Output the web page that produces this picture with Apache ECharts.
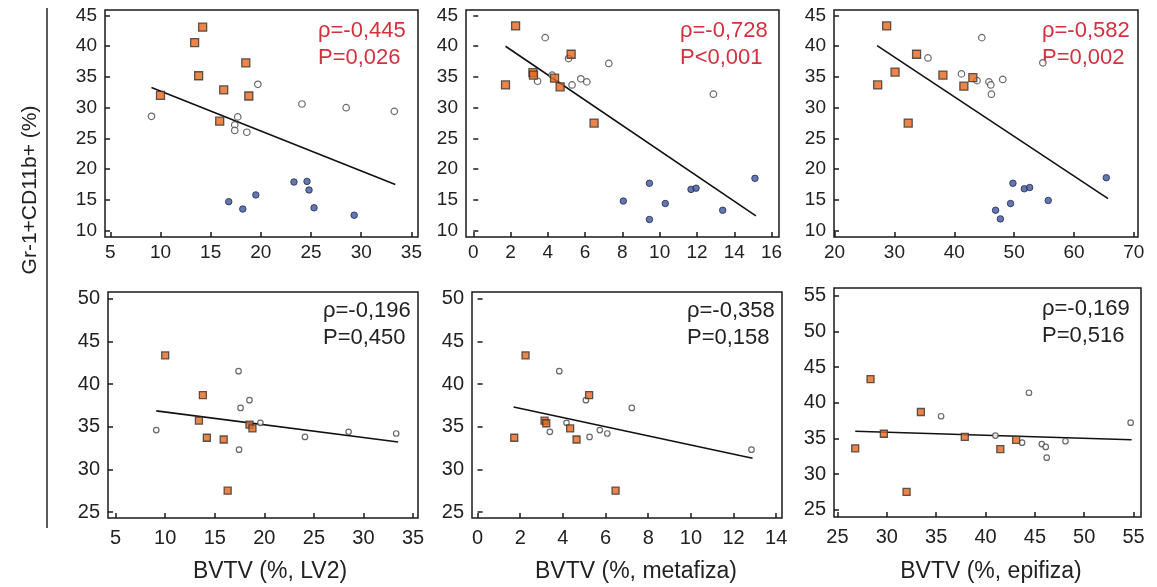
<!DOCTYPE html>
<html><head><meta charset="utf-8">
<script src="https://cdn.jsdelivr.net/npm/echarts@6/dist/echarts.min.js"></script>
<style>html,body{margin:0;padding:0;background:#fff}#c{width:1157px;height:587px}</style>
</head><body><div id="c"></div>
<script>
// ---------- DATA ----------
// Panel 1: BVTV (%, LV2) – top row
const p1OrangeX = [10.0, 13.4, 14.2, 13.8, 16.3, 18.5, 18.8, 15.9];
const p1OrangeY = [32.0, 40.6, 43.1, 35.2, 32.9, 37.3, 31.9, 27.8];
const p1WhiteX  = [9.1, 19.7, 24.1, 28.5, 33.3, 17.7, 17.4, 17.4, 18.6];
const p1WhiteY  = [28.6, 33.8, 30.6, 30.0, 29.4, 28.5, 27.2, 26.3, 26.0];
const p1BlueX   = [16.8, 18.2, 19.5, 23.3, 24.6, 24.8, 25.3, 29.3];
const p1BlueY   = [14.7, 13.5, 15.8, 17.9, 18.0, 16.6, 13.7, 12.5];
const p1LineX   = [9.1, 33.4];
const p1LineY   = [33.3, 17.5];
// Panel 2: BVTV (%, metafiza) – top row
const p2OrangeX = [1.73, 2.27, 3.2, 3.23, 4.36, 4.66, 5.25, 6.48];
const p2OrangeY = [33.7, 43.3, 35.7, 35.3, 34.8, 33.4, 38.7, 27.5];
const p2WhiteX  = [3.86, 5.11, 7.27, 4.23, 3.45, 5.77, 6.09, 5.3, 12.88];
const p2WhiteY  = [41.4, 38.0, 37.2, 35.3, 34.3, 34.7, 34.2, 33.7, 32.2];
const p2BlueX   = [8.05, 9.45, 9.45, 10.3, 11.68, 11.95, 13.38, 15.11];
const p2BlueY   = [14.8, 17.7, 11.8, 14.4, 16.7, 16.9, 13.3, 18.5];
const p2LineX   = [1.73, 15.16];
const p2LineY   = [40.0, 12.4];
// Panel 3: BVTV (%, epifiza) – top row
const p3OrangeX = [27.2, 28.7, 30.1, 32.3, 33.7, 38.1, 41.6, 43.1];
const p3OrangeY = [33.7, 43.3, 35.8, 27.5, 38.7, 35.3, 33.5, 34.9];
const p3WhiteX  = [35.6, 41.2, 43.8, 44.6, 45.8, 46.1, 46.2, 48.1, 54.8];
const p3WhiteY  = [38.1, 35.5, 34.4, 41.4, 34.2, 33.7, 32.2, 34.6, 37.3];
const p3BlueX   = [46.9, 47.7, 49.4, 49.8, 51.7, 52.6, 55.7, 65.4];
const p3BlueY   = [13.3, 11.9, 14.4, 17.7, 16.8, 17.0, 14.9, 18.6];
const p3LineX   = [27.1, 65.7];
const p3LineY   = [40.1, 15.2];
// Panel 4: BVTV (%, LV2) – bottom row
const p4OrangeX = [10.0, 13.4, 13.8, 14.2, 15.9, 16.3, 18.5, 18.8];
const p4OrangeY = [43.35, 35.7, 38.7, 33.7, 33.5, 27.5, 35.25, 34.8];
const p4WhiteX  = [9.1, 17.4, 17.6, 17.45, 18.5, 19.6, 24.1, 28.5, 33.3];
const p4WhiteY  = [34.6, 41.5, 37.2, 32.3, 38.1, 35.45, 33.8, 34.4, 34.2];
const p4LineX   = [9.1, 33.5];
const p4LineY   = [36.85, 33.2];
// Panel 5: BVTV (%, metafiza) – bottom row
const p5OrangeX = [1.72, 2.25, 3.14, 3.22, 4.34, 4.64, 5.23, 6.47];
const p5OrangeY = [33.7, 43.35, 35.7, 35.4, 34.8, 33.5, 38.7, 27.5];
const p5WhiteX  = [3.83, 5.08, 7.23, 4.17, 3.39, 5.73, 6.08, 5.25, 12.84];
const p5WhiteY  = [41.5, 38.1, 37.2, 35.45, 34.4, 34.6, 34.2, 33.8, 32.3];
const p5LineX   = [1.69, 12.89];
const p5LineY   = [37.3, 31.3];
// Panel 6: BVTV (%, epifiza) – bottom row
const p6OrangeX = [26.8, 28.35, 29.7, 32.0, 33.45, 37.9, 41.5, 43.1];
const p6OrangeY = [33.6, 43.3, 35.65, 27.5, 38.7, 35.2, 33.5, 34.8];
const p6WhiteX  = [35.5, 41.0, 43.7, 44.4, 45.7, 46.1, 46.2, 48.1, 54.7];
const p6WhiteY  = [38.1, 35.4, 34.4, 41.4, 34.2, 33.8, 32.3, 34.6, 37.2];
const p6LineX   = [26.8, 54.8];
const p6LineY   = [36.0, 34.8];

// tick labels
const xTicksLV2  = [5, 10, 15, 20, 25, 30, 35];
const xTicksMet1 = [0, 2, 4, 6, 8, 10, 12, 14, 16];
const xTicksEpi1 = [20, 30, 40, 50, 60, 70];
const xTicksMet2 = [0, 2, 4, 6, 8, 10, 12, 14];
const xTicksEpi2 = [25, 30, 35, 40, 45, 50, 55];
const yTicksTop  = [10, 15, 20, 25, 30, 35, 40, 45];
const yTicksBot  = [25, 30, 35, 40, 45, 50];
const yTicksBot3 = [25, 30, 35, 40, 45, 50, 55];

// texts
const statRho = ['ρ=-0,445', 'ρ=-0,728', 'ρ=-0,582', 'ρ=-0,196', 'ρ=-0,358', 'ρ=-0,169'];
const statP   = ['P=0,026', 'P<0,001', 'P=0,002', 'P=0,450', 'P=0,158', 'P=0,516'];
const xTitles = ['BVTV (%, LV2)', 'BVTV (%, metafiza)', 'BVTV (%, epifiza)'];
const yTitle  = 'Gr-1+CD11b+ (%)';

// ---------- BUILD ----------
const zip = (a, b) => a.map((v, i) => [v, b[i]]);
const panels = [
  {o:[p1OrangeX,p1OrangeY], w:[p1WhiteX,p1WhiteY], b:[p1BlueX,p1BlueY], l:[p1LineX,p1LineY], xt:xTicksLV2, yt:yTicksTop,
   grid:{left:105,top:10,width:313,height:227}, xr:[4.47,35.66], yr:[8.95,45.9], top:true},
  {o:[p2OrangeX,p2OrangeY], w:[p2WhiteX,p2WhiteY], b:[p2BlueX,p2BlueY], l:[p2LineX,p2LineY], xt:xTicksMet1, yt:yTicksTop,
   grid:{left:466,top:10,width:313,height:227}, xr:[-0.39,16.4], yr:[8.95,45.9], top:true},
  {o:[p3OrangeX,p3OrangeY], w:[p3WhiteX,p3WhiteY], b:[p3BlueX,p3BlueY], l:[p3LineX,p3LineY], xt:xTicksEpi1, yt:yTicksTop,
   grid:{left:834,top:10,width:304,height:227}, xr:[19.9,70.7], yr:[8.95,45.9], top:true},
  {o:[p4OrangeX,p4OrangeY], w:[p4WhiteX,p4WhiteY], b:null, l:[p4LineX,p4LineY], xt:xTicksLV2, yt:yTicksBot,
   grid:{left:108,top:292,width:310,height:226}, xr:[4.23,35.5], yr:[24.3,50.78], top:false},
  {o:[p5OrangeX,p5OrangeY], w:[p5WhiteX,p5WhiteY], b:null, l:[p5LineX,p5LineY], xt:xTicksMet2, yt:yTicksBot,
   grid:{left:472,top:292,width:310,height:226}, xr:[-0.26,14.27], yr:[24.3,50.78], top:false},
  {o:[p6OrangeX,p6OrangeY], w:[p6WhiteX,p6WhiteY], b:null, l:[p6LineX,p6LineY], xt:xTicksEpi2, yt:yTicksBot3,
   grid:{left:834,top:288,width:307,height:229}, xr:[24.65,55.75], yr:[23.98,56.08], top:false}
];

const FONT = '"Liberation Sans", Arial, sans-serif';
const grids = [], xAxes = [], yAxes = [], series = [];
panels.forEach((p, i) => {
  grids.push(Object.assign({show:true, borderColor:'#1a1a1a', borderWidth:1.5, backgroundColor:'transparent'}, p.grid));
  const lblSize = p.top ? 19 : 20;
  const tick = {show:true, inside:true, length:5, lineStyle:{color:'#1a1a1a', width:1.5}};
  xAxes.push({gridIndex:i, type:'value', min:p.xr[0], max:p.xr[1],
    axisLine:{show:false}, splitLine:{show:false},
    axisTick:Object.assign({customValues:p.xt}, tick),
    axisLabel:{customValues:p.xt, margin:p.top ? 6 : 10, fontSize:lblSize, color:'#222', fontFamily:FONT}});
  yAxes.push({gridIndex:i, type:'value', min:p.yr[0], max:p.yr[1],
    axisLine:{show:false}, splitLine:{show:false},
    axisTick:Object.assign({customValues:p.yt}, tick),
    axisLabel:{customValues:p.yt, margin:8, fontSize:lblSize, color:'#222', fontFamily:FONT}});
  const sz = p.top ? 8 : 7;
  series.push({type:'line', xAxisIndex:i, yAxisIndex:i, data:zip(p.l[0], p.l[1]), symbol:'none',
    lineStyle:{color:'#111', width:1.6}, z:2, silent:true});
  series.push({type:'scatter', xAxisIndex:i, yAxisIndex:i, data:zip(p.w[0], p.w[1]), symbol:'circle', symbolSize:sz-1.5,
    itemStyle:{color:'#ffffff', borderColor:'#444', borderWidth:1.2}, z:3});
  series.push({type:'scatter', xAxisIndex:i, yAxisIndex:i, data:zip(p.o[0], p.o[1]), symbol:'rect', symbolSize:sz,
    itemStyle:{color:'#e8661c', borderColor:'#333', borderWidth:1.3}, z:4});
  if (p.b) series.push({type:'scatter', xAxisIndex:i, yAxisIndex:i, data:zip(p.b[0], p.b[1]), symbol:'circle', symbolSize:sz-1.5,
    itemStyle:{color:'#3d559c', borderColor:'#1f2a4a', borderWidth:1}, z:4});
});

const annPos = [[318,20],[680,20],[1042,20],[323,300],[687,300],[1042,298]];
const graphic = [];
annPos.forEach((pos, i) => {
  const col = i < 3 ? '#d5303e' : '#222';
  const fs = 22;
  graphic.push({type:'text', left:pos[0], top:pos[1], style:{text:statRho[i], fill:col, font:fs+'px '+FONT}});
  graphic.push({type:'text', left:pos[0], top:pos[1]+27, style:{text:statP[i], fill:col, font:fs+'px '+FONT}});
});
const titleCx = [270, 636, 991];
titleCx.forEach((cx, i) => {
  graphic.push({type:'text', x:cx, y:572, style:{text:xTitles[i], fill:'#222', font:'23px '+FONT, textAlign:'center', textVerticalAlign:'middle'}});
});
graphic.push({type:'text', x:30, y:190, rotation:Math.PI/2, style:{text:yTitle, fill:'#222', font:'21px '+FONT, textAlign:'center', textVerticalAlign:'middle'}});
graphic.push({type:'line', shape:{x1:47, y1:8, x2:47, y2:528}, style:{stroke:'#222', lineWidth:1.5}});

const chart = echarts.init(document.getElementById('c'));
chart.setOption({animation:false, backgroundColor:'#fff', grid:grids, xAxis:xAxes, yAxis:yAxes, series:series, graphic:graphic});
</script></body></html>
